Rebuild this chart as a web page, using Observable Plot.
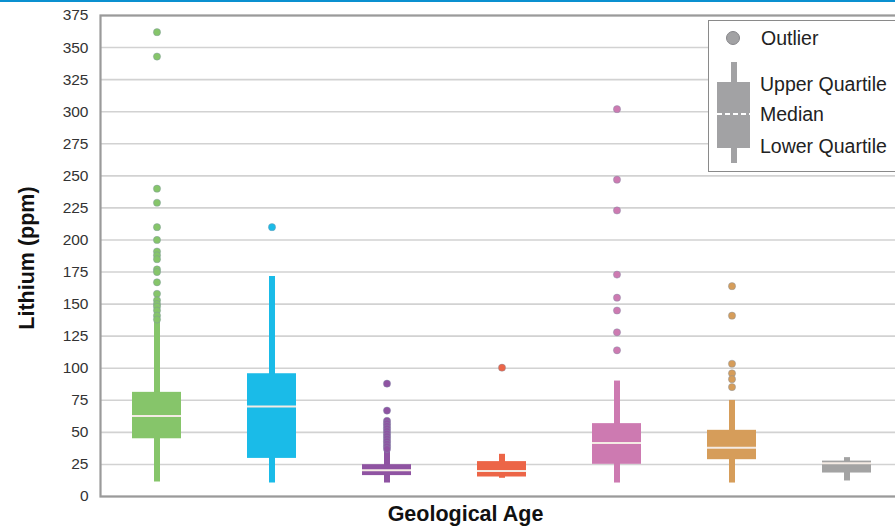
<!DOCTYPE html>
<html>
<head>
<meta charset="utf-8">
<script src="https://cdn.jsdelivr.net/npm/d3@7"></script>
<script src="https://cdn.jsdelivr.net/npm/@observablehq/plot@0.6"></script>
<style>
  html, body { margin: 0; padding: 0; background: #fff; }
  body { width: 895px; height: 531px; overflow: hidden; position: relative; font-family: "Liberation Sans", Arial, sans-serif; }
  #topbar { position: absolute; left: 0; top: 0; width: 895px; height: 2px; background: #0a90d0; z-index: 3; }
  #chart { position: absolute; left: 0; top: 0; width: 910px; height: 531px; }
  #chart svg { max-width: none !important; }
  #legend { position: absolute; left: 708px; top: 20px; width: 210px; height: 150px; border: 1px solid #8a8a8a; background: #fff; z-index: 2; }
</style>
</head>
<body>
<div id="topbar"></div>
<div id="chart"></div>
<div id="legend">
  <svg width="210" height="150" style="font-family:'Liberation Sans', Arial, sans-serif; font-size:19.5px; fill:#222">
    <circle cx="24" cy="17" r="6.5" fill="#a2a2a4" stroke="#86868a" stroke-width="1"></circle>
    <text x="52" y="17" dy="0.35em">Outlier</text>
    <line x1="25" x2="25" y1="41" y2="142" stroke="#a2a2a4" stroke-width="6"></line>
    <rect x="8" y="61" width="33" height="66" fill="#a2a2a4"></rect>
    <line x1="8" x2="41" y1="93" y2="93" stroke="#fff" stroke-width="2" stroke-dasharray="5,3"></line>
    <text x="51" y="63" dy="0.35em">Upper Quartile</text>
    <text x="51" y="93" dy="0.35em">Median</text>
    <text x="51" y="125" dy="0.35em">Lower Quartile</text>
  </svg>
</div>
<script>
// ---- data ----
const ages = ["Age 1", "Age 2", "Age 3", "Age 4", "Age 5", "Age 6", "Age 7"];
const colors = ["#86c56a", "#1abbe8", "#8f53a2", "#ec6547", "#cd7ab1", "#d69d5a", "#a3a3a3"];
const whiskerLow  = [11.3, 10.5, 10.5, 14.2, 10.5, 10.5, 12.1];
const lowerQuart  = [45.0, 29.7, 16.3, 15.2, 25.1, 28.7, 18.3];
const medians     = [62.7, 70.2, 20.4, 19.9, 41.7, 38.1, 26.0];
const upperQuart  = [81.2, 95.7, 24.8, 27.2, 56.8, 51.6, 27.6];
const whiskerHigh = [136, 171.5, 36, 32.9, 90, 74.9, 30.3];
const outliers = [
  [362, 343, 240, 229, 210, 200, 191, 188, 185, 177, 175, 167, 158, 153, 150, 148, 145, 141, 138],
  [210],
  [88, 67, 59, 57, 55, 53, 51, 49, 47, 45, 43, 41, 39, 37],
  [100.4],
  [302, 247, 223, 173, 155, 145, 128, 114],
  [164, 141, 103.5, 96, 91.5, 85.3],
  []
];
const yTicks = [0, 25, 50, 75, 100, 125, 150, 175, 200, 225, 250, 275, 300, 325, 350, 375];

// ---- tables built from the arrays ----
const boxes = ages.map((a, i) => ({
  age: a, color: colors[i], lo: whiskerLow[i], q1: lowerQuart[i],
  med: medians[i], q3: upperQuart[i], hi: whiskerHigh[i]
}));
const points = ages.flatMap((a, i) => outliers[i].map(v => ({age: a, color: colors[i], value: v})));

const chart = Plot.plot({
  width: 910,
  height: 531,
  marginLeft: 100,
  marginRight: 0,
  marginTop: 15,
  marginBottom: 35,
  style: {fontFamily: "'Liberation Sans', Arial, sans-serif", fontSize: "15.5px", color: "#333", background: "transparent", maxWidth: "none"},
  x: {type: "band", domain: ages, range: [96, 906], paddingInner: 0.576, paddingOuter: 0.288, axis: null},
  y: {domain: [0, 375], ticks: yTicks, tickSize: 0, tickPadding: 12, label: null},
  color: {type: "identity"},
  marks: [
    Plot.gridY(yTicks, {stroke: "#d2d2d2", strokeOpacity: 1, strokeWidth: 1.6}),
    Plot.ruleX(boxes, {x: "age", y1: "lo", y2: "hi", stroke: "color", strokeWidth: 6}),
    Plot.barY(boxes, {x: "age", y1: "q1", y2: "q3", fill: "color"}),
    Plot.tickY(boxes, {x: "age", y: "med", stroke: "#f4ebe4", strokeWidth: 2}),
    Plot.dot(points, {x: "age", y: "value", fill: "color", r: 3.6, stroke: "#7d90a6", strokeWidth: 0.6, strokeOpacity: 0.7}),
    Plot.frame({stroke: "#9a9a9a", strokeWidth: 2.2}),
    Plot.text(["Lithium (ppm)"], {frameAnchor: "left", textAnchor: "middle", rotate: -90, dx: -73, dy: 2, fontWeight: "bold", fontSize: 21.5, fill: "#111"}),
    Plot.text(["Geological Age"], {frameAnchor: "bottom", textAnchor: "middle", dx: -40, dy: 24, fontWeight: "bold", fontSize: 21.5, fill: "#111"})
  ]
});
document.getElementById("chart").appendChild(chart);
</script>
</body>
</html>
